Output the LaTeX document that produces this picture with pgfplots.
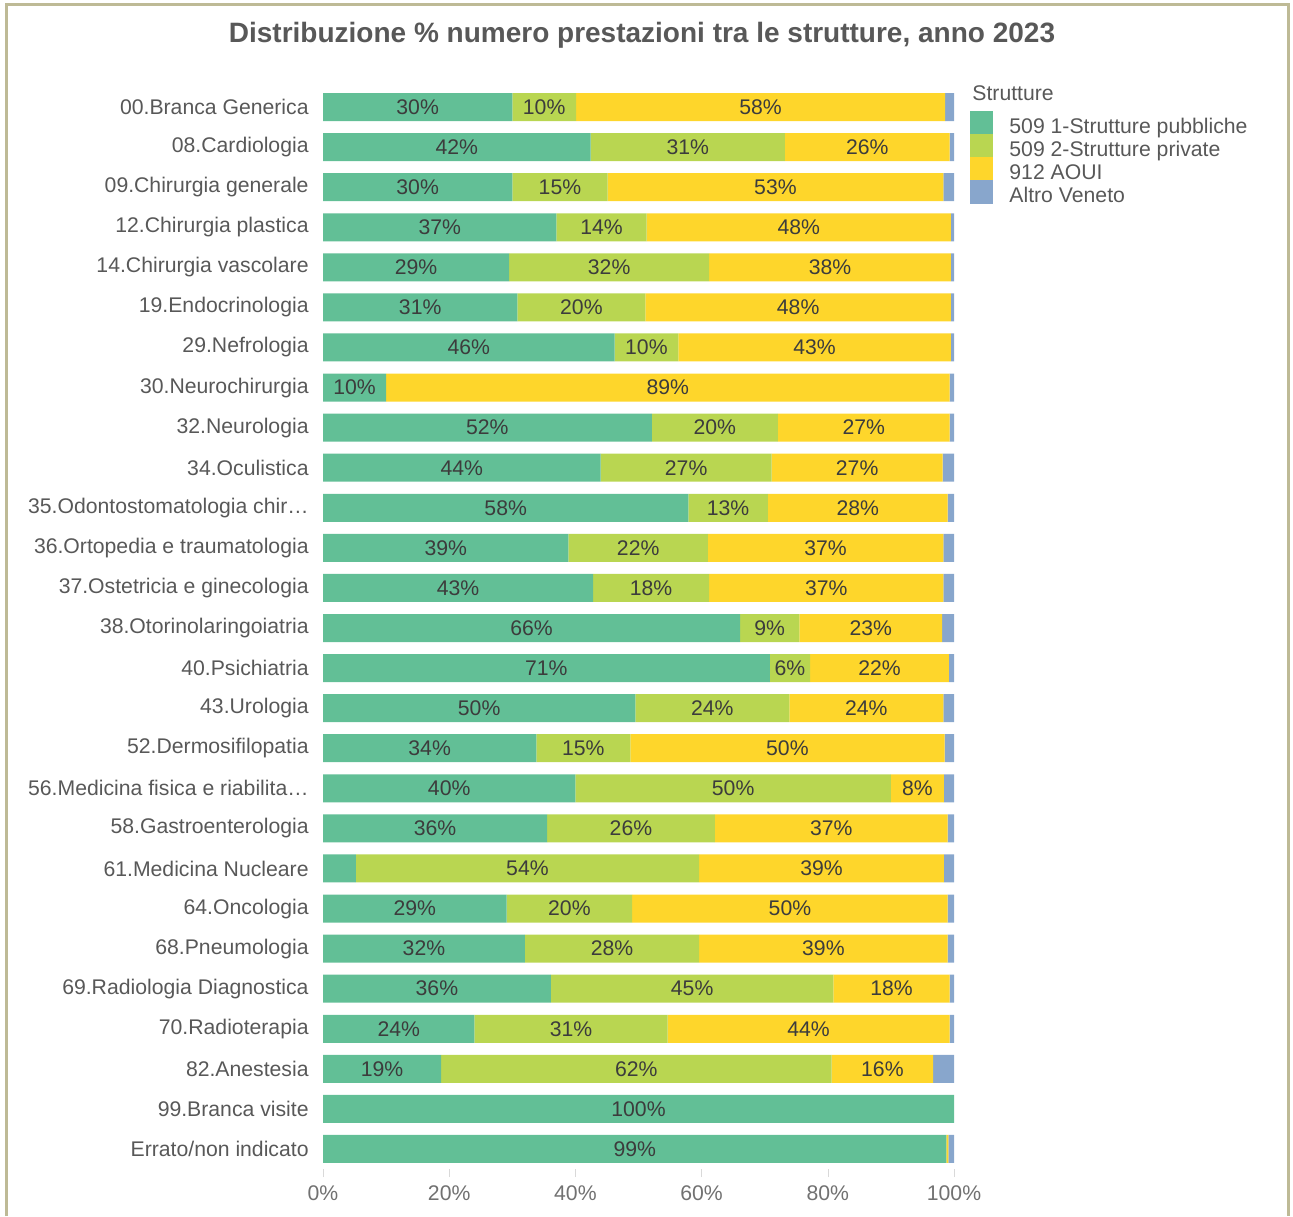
\documentclass[border=0pt]{standalone}
\usepackage{fontspec}
\setmainfont{Liberation Sans}
\usepackage{pgfplots}
\pgfplotsset{compat=1.18}

\definecolor{cpub}{RGB}{98,191,150}
\definecolor{cpriv}{RGB}{185,214,81}
\definecolor{caoui}{RGB}{254,214,43}
\definecolor{caltro}{RGB}{136,166,204}
\definecolor{txt}{RGB}{88,88,88}
\definecolor{lbl}{RGB}{60,60,60}
\definecolor{frm}{RGB}{190,186,150}

\newcommand{\lblfont}{\fontsize{10.6}{12}\selectfont}

\begin{document}
\begin{tikzpicture}
\useasboundingbox (0,0) rectangle (646.5pt,608pt);
% frame
\draw[frm, line width=1.5pt] (3pt,0) -- (3pt,605.5pt) -- (644pt,605.5pt) -- (644pt,0);

\node[text=txt, font=\bfseries\fontsize{14}{16}\selectfont] at (321pt,590.5pt)
  {Distribuzione \% numero prestazioni tra le strutture, anno 2023};
\node[text=txt, font=\lblfont, anchor=west, inner sep=0pt] at (486pt,561.5pt) {Strutture};

\begin{axis}[
  at={(161.5pt,23.5pt)}, anchor=south west,
  width=315.5pt, height=541pt, scale only axis,
  xbar stacked, bar width=14pt,
  xmin=0, xmax=100, ymin=-0.5, ymax=26.5, y dir=reverse,
  enlargelimits=false,
  axis line style={draw=none},
  ytick style={draw=none},
  xtick style={draw=black!15},
  tick pos=left, tick align=outside, major tick length=4pt,
  ytick={0,...,26},
  yticklabels={00.Branca Generica, 08.Cardiologia, 09.Chirurgia generale,
    12.Chirurgia plastica, 14.Chirurgia vascolare, 19.Endocrinologia,
    29.Nefrologia, 30.Neurochirurgia, 32.Neurologia, 34.Oculistica,
    35.Odontostomatologia chir…, 36.Ortopedia e traumatologia,
    37.Ostetricia e ginecologia, 38.Otorinolaringoiatria, 40.Psichiatria,
    43.Urologia, 52.Dermosifilopatia, 56.Medicina fisica e riabilita…,
    58.Gastroenterologia, 61.Medicina Nucleare, 64.Oncologia,
    68.Pneumologia, 69.Radiologia Diagnostica, 70.Radioterapia,
    82.Anestesia, 99.Branca visite, Errato/non indicato},
  yticklabel style={font=\lblfont, text=txt, inner sep=0pt, xshift=-3pt},
  xtick={0,20,40,60,80,100},
  xticklabels={0\%,20\%,40\%,60\%,80\%,100\%},
  xticklabel style={font=\lblfont, text=txt!85, inner sep=0pt, yshift=-4pt},
  nodes near coords style={font=\lblfont, text=lbl},
  legend image code/.code={\fill[#1] (0pt,-3.5pt) rectangle (11.5pt,8.5pt);},
  legend style={at={(1.0254,0.9778)}, anchor=north west, draw=none, fill=none,
    inner sep=0pt, row sep=-3pt, column sep=8pt, font=\lblfont,
    nodes={inner sep=0pt, text height=8.5pt, text depth=3.5pt, text=txt}},
  legend cell align=left,
]
\addplot+[fill=cpub, draw=none, point meta=explicit symbolic,
  nodes near coords={\pgfplotspointmeta}] coordinates {
 (30.0,0) [30\%] (42.4,1) [42\%] (30.0,2) [30\%] (37.0,3) [37\%] (29.5,4) [29\%]
 (30.8,5) [31\%] (46.2,6) [46\%] (10.0,7) [10\%] (52.1,8) [52\%] (44.0,9) [44\%]
 (57.9,10) [58\%] (38.9,11) [39\%] (42.8,12) [43\%] (66.1,13) [66\%] (70.8,14) [71\%]
 (49.5,15) [50\%] (33.8,16) [34\%] (40.0,17) [40\%] (35.5,18) [36\%] (5.2,19) []
 (29.1,20) [29\%] (32.0,21) [32\%] (36.1,22) [36\%] (24.0,23) [24\%] (18.7,24) [19\%]
 (100.0,25) [100\%] (98.8,26) [99\%]
};
\addplot+[fill=cpriv, draw=none, point meta=explicit symbolic,
  nodes near coords={\pgfplotspointmeta}] coordinates {
 (10.1,0) [10\%] (30.8,1) [31\%] (15.1,2) [15\%] (14.3,3) [14\%] (31.7,4) [32\%]
 (20.3,5) [20\%] (10.1,6) [10\%] (0,7) [] (20.0,8) [20\%] (27.1,9) [27\%]
 (12.6,10) [13\%] (22.1,11) [22\%] (18.4,12) [18\%] (9.4,13) [9\%] (6.4,14) [6\%]
 (24.4,15) [24\%] (14.9,16) [15\%] (50.0,17) [50\%] (26.6,18) [26\%] (54.4,19) [54\%]
 (19.9,20) [20\%] (27.6,21) [28\%] (44.8,22) [45\%] (30.6,23) [31\%] (61.9,24) [62\%]
 (0,25) [] (0,26) []
};
\addplot+[fill=caoui, draw=none, point meta=explicit symbolic,
  nodes near coords={\pgfplotspointmeta}] coordinates {
 (58.5,0) [58\%] (26.1,1) [26\%] (53.2,2) [53\%] (48.2,3) [48\%] (38.3,4) [38\%]
 (48.4,5) [48\%] (43.2,6) [43\%] (89.3,7) [89\%] (27.2,8) [27\%] (27.1,9) [27\%]
 (28.5,10) [28\%] (37.3,11) [37\%] (37.1,12) [37\%] (22.6,13) [23\%] (22.0,14) [22\%]
 (24.4,15) [24\%] (49.8,16) [50\%] (8.4,17) [8\%] (36.9,18) [37\%] (38.8,19) [39\%]
 (50.0,20) [50\%] (39.4,21) [39\%] (18.4,22) [18\%] (44.7,23) [44\%] (16.1,24) [16\%]
 (0,25) [] (0.3,26) []
};
\addplot+[fill=caltro, draw=none] coordinates {
 (1.4,0) (0.7,1) (1.7,2) (0.5,3) (0.5,4) (0.5,5) (0.5,6) (0.7,7) (0.7,8) (1.8,9)
 (1.0,10) (1.7,11) (1.7,12) (1.9,13) (0.8,14) (1.7,15) (1.5,16) (1.6,17) (1.0,18)
 (1.6,19) (1.0,20) (1.0,21) (0.7,22) (0.7,23) (3.3,24) (0,25) (0.9,26)
};
\legend{509 1-Strutture pubbliche, 509 2-Strutture private, 912 AOUI, Altro Veneto}
\end{axis}
\end{tikzpicture}
\end{document}
